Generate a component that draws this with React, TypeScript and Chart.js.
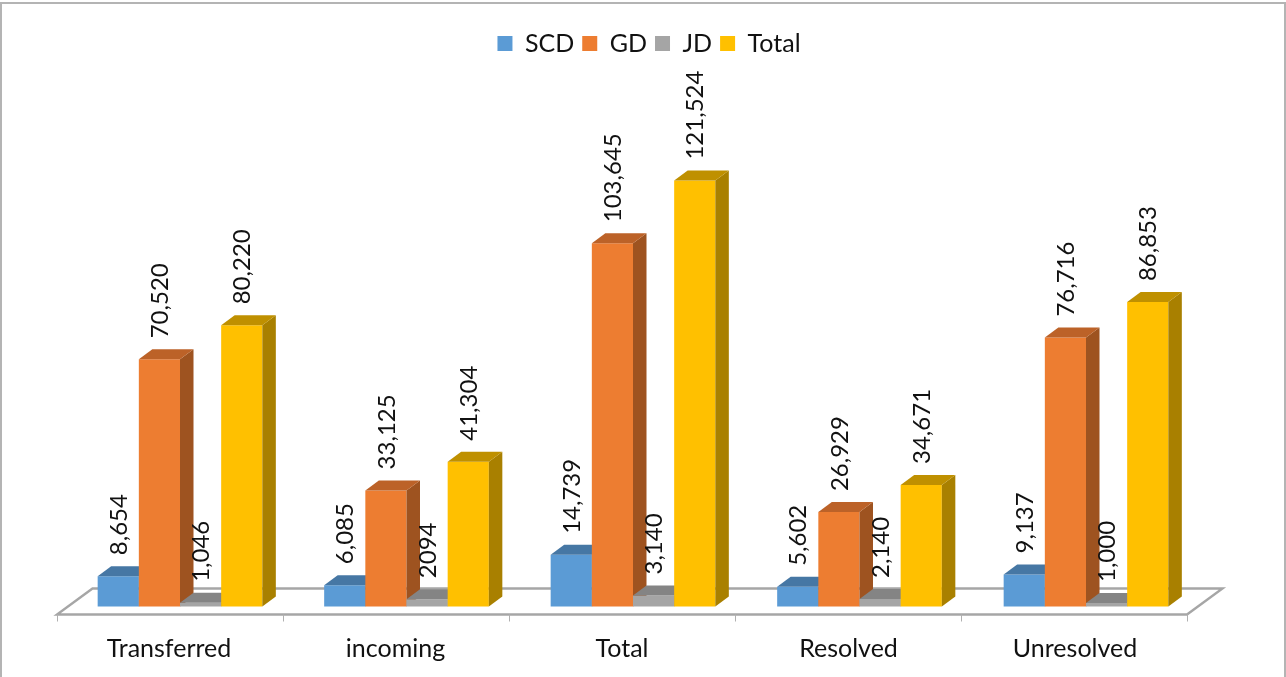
import React, { useEffect, useRef } from "react";
import { Chart, registerables } from "chart.js";

Chart.register(...registerables);

const categories = ["Transferred", "incoming", "Total", "Resolved", "Unresolved"];
const scd = [8654, 6085, 14739, 5602, 9137];
const gd = [70520, 33125, 103645, 26929, 76716];
const jd = [1046, 2094, 3140, 2140, 1000];
const total = [80220, 41304, 121524, 34671, 86853];
const scdLabels = ["8,654", "6,085", "14,739", "5,602", "9,137"];
const gdLabels = ["70,520", "33,125", "103,645", "26,929", "76,716"];
const jdLabels = ["1,046", "2094", "3,140", "2,140", "1,000"];
const totalLabels = ["80,220", "41,304", "121,524", "34,671", "86,853"];
const FONT = "Lato, 'Noto Sans', sans-serif";

const DEPTH_X = 13.5;
const DEPTH_Y = 10;
const FLOOR_SHIFT = 9.75;
const FLOOR_WIDTH = 1130;

const shades = [
  { side: "#3F6D97", top: "#4677A4" },
  { side: "#9E5320", top: "#BC6228" },
  { side: "#6E6E6E", top: "#848484" },
  { side: "#A98000", top: "#BF9000" },
];
const labelSets = [scdLabels, gdLabels, jdLabels, totalLabels];

function drawFaces(chart: any, i: number) {
  const c = chart.ctx;
  const meta = chart.getDatasetMeta(i);
  c.save();
  meta.data.forEach((bar: any) => {
    const p = bar.getProps(["x", "y", "base", "width"], true);
    const l = p.x - p.width / 2;
    const r = p.x + p.width / 2;
    c.fillStyle = shades[i].side;
    c.beginPath();
    c.moveTo(r, p.y);
    c.lineTo(r + DEPTH_X, p.y - DEPTH_Y);
    c.lineTo(r + DEPTH_X, p.base - DEPTH_Y);
    c.lineTo(r, p.base);
    c.closePath();
    c.fill();
    c.fillStyle = shades[i].top;
    c.beginPath();
    c.moveTo(l, p.y);
    c.lineTo(l + DEPTH_X, p.y - DEPTH_Y);
    c.lineTo(r + DEPTH_X, p.y - DEPTH_Y);
    c.lineTo(r, p.y);
    c.closePath();
    c.fill();
  });
  c.restore();
}

const frame = {
  id: "frame",
  afterLayout(chart: any) {
    chart.legend.left += 16;
    chart.legend.right += 16;
  },
  beforeDraw(chart: any) {
    const c = chart.ctx;
    c.save();
    c.fillStyle = "#ffffff";
    c.fillRect(0, 0, chart.width, chart.height);
    c.strokeStyle = "#B4B4B4";
    c.lineWidth = 2;
    c.strokeRect(1, 3, chart.width - 2, chart.height + 10);
    c.restore();
  },
  beforeDatasetsDraw(chart: any) {
    const c = chart.ctx;
    const a = chart.chartArea;
    const left = a.left - FLOOR_SHIFT;
    const right = left + FLOOR_WIDTH;
    const front = a.bottom + 8;
    const back = a.bottom - 18;
    c.save();
    c.strokeStyle = "#A6A6A6";
    c.lineWidth = 2.4;
    c.lineJoin = "miter";
    c.beginPath();
    c.moveTo(left, front);
    c.lineTo(right, front);
    c.lineTo(right + 35.5, back);
    c.lineTo(left + 35.5, back);
    c.closePath();
    c.stroke();
    c.lineWidth = 1;
    c.strokeStyle = "#B0B0B0";
    const n = categories.length;
    for (let i = 0; i <= n; i++) {
      const px = Math.round(left + ((right - left) * i) / n) + 0.5;
      c.beginPath();
      c.moveTo(px, front);
      c.lineTo(px, front + 7);
      c.stroke();
    }
    c.restore();
    // Paint bars left to right so that each bar's faces overlap properly.
    labelSets.forEach((_, i) => {
      chart.getDatasetMeta(i).controller.draw();
      drawFaces(chart, i);
    });
    return false;
  },
  afterDraw(chart: any) {
    const c = chart.ctx;
    c.save();
    c.fillStyle = "#111111";
    c.font = `24px ${FONT}`;
    c.textBaseline = "middle";
    c.textAlign = "left";
    labelSets.forEach((labels, i) => {
      chart.getDatasetMeta(i).data.forEach((bar: any, j: number) => {
        const p = bar.getProps(["x", "y"], true);
        c.save();
        c.translate(p.x + 1, p.y - DEPTH_Y - 11);
        c.rotate(-Math.PI / 2);
        c.fillText(labels[j], 0, 0);
        c.restore();
      });
    });
    c.restore();
  },
};

export default function App() {
  const ref = useRef<HTMLCanvasElement>(null);
  useEffect(() => {
    const chart = new Chart(ref.current!, {
      type: "bar",
      data: {
        labels: categories,
        datasets: [
          { label: "SCD", data: scd, backgroundColor: "#5B9BD5" },
          { label: "GD", data: gd, backgroundColor: "#ED7D31" },
          { label: "JD", data: jd, backgroundColor: "#A5A5A5" },
          { label: "Total", data: total, backgroundColor: "#FFC000" },
        ],
      },
      plugins: [frame],
      options: {
        responsive: false,
        animation: false,
        layout: { padding: { left: 66.75, right: 86.75, top: 23, bottom: 0.5 } },
        datasets: { bar: { categoryPercentage: 0.727, barPercentage: 1, borderWidth: 0 } },
        scales: {
          x: {
            type: "category",
            offset: true,
            grid: { display: false },
            border: { display: false },
            afterFit: (s: any) => {
              s.height = 70;
            },
            ticks: {
              color: "#111111",
              font: { family: FONT, size: 25 },
              padding: 19,
              labelOffset: -11,
              maxRotation: 0,
              autoSkip: false,
            },
          },
          y: { display: false, min: 0, max: 154210 },
        },
        plugins: {
          tooltip: { enabled: false },
          legend: {
            position: "top",
            labels: {
              boxWidth: 15,
              boxHeight: 15,
              padding: 8,
              color: "#111111",
              font: { family: FONT, size: 25 },
            },
          },
        },
      } as any,
    });
    return () => chart.destroy();
  }, []);
  return (
    <div style={{ position: "fixed", left: 0, top: 0, width: 1286, height: 677 }}>
      <canvas ref={ref} width={1286} height={677} style={{ display: "block" }} />
    </div>
  );
}
